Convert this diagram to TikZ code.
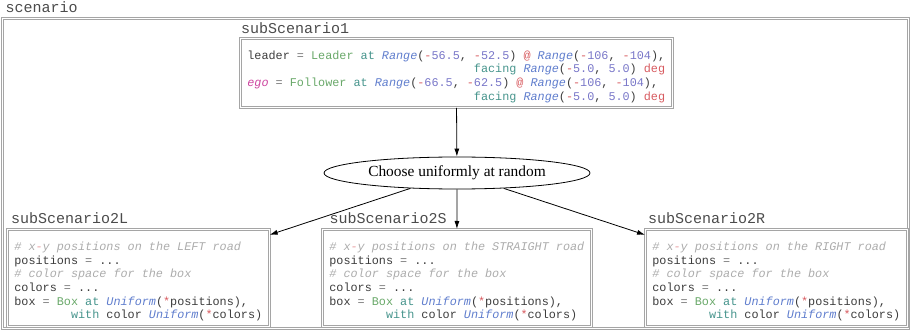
\documentclass[tikz,border=0pt]{standalone}
\usepackage{fontspec}
\setmainfont{Liberation Serif}
\setmonofont{Liberation Mono}
\usetikzlibrary{arrows.meta,shapes.geometric,positioning}

% colours of the code listing
\definecolor{codetext}{RGB}{60,60,60}
\definecolor{lbltext}{RGB}{75,75,75}
\definecolor{eqgray}{RGB}{120,120,120}
\definecolor{clsgreen}{RGB}{105,168,105}
\definecolor{kwteal}{RGB}{70,148,140}
\definecolor{fnblue}{RGB}{95,125,205}
\definecolor{numblue}{RGB}{120,118,200}
\definecolor{opred}{RGB}{215,90,95}
\definecolor{egopink}{RGB}{205,70,160}
\definecolor{cmtgray}{RGB}{172,172,172}
\definecolor{framegray}{RGB}{165,165,165}

\newcommand{\cls}[1]{\textcolor{clsgreen}{#1}}
\newcommand{\kwd}[1]{\textcolor{kwteal}{#1}}
\newcommand{\fn}[1]{\textcolor{fnblue}{\itshape #1}}
\newcommand{\nm}[1]{\textcolor{numblue}{#1}}
\newcommand{\op}[1]{\textcolor{opred}{#1}}
\newcommand{\mn}{\textcolor{opred}{-}}
\newcommand{\eq}{\textcolor{eqgray}{=}}
\newcommand{\cmt}[1]{\textcolor{cmtgray}{\itshape #1}}
\newcommand{\topgap}{\rule{0pt}{16pt}}

\tikzset{
  dbox/.style={draw=framegray, double=white, line width=0.8pt, double distance=1.3pt},
  codebox/.style={dbox, anchor=north west, align=left, text=codetext,
    font=\fontsize{11.8}{13.7}\selectfont\ttfamily, inner xsep=7pt, inner ysep=0pt},
  lbl/.style={anchor=base west, inner sep=0pt, text=lbltext,
    font=\fontsize{15}{18}\selectfont\ttfamily},
  arr/.style={-{Latex[length=8pt,width=5pt]}, line width=0.8pt},
}

\begin{document}
\begin{tikzpicture}[x=1pt,y=-1pt]
  \useasboundingbox (0,0) rectangle (911,331);

  % Draw the outer frame
  \draw[dbox] (2.5,18.5) rectangle (908.5,328.5);
  \node[lbl] (scenario) at (5.5,12.5) {scenario};

  % Draw the first sub-scenario
  \node[codebox, minimum height=69pt] (sub1) at (240,38) {%
    \topgap leader \eq{} \cls{Leader} \kwd{at} \fn{Range}(\mn\nm{56.5}, \mn\nm{52.5}) \op{@} \fn{Range}(\mn\nm{106}, \mn\nm{104}),\\
    \hspace*{19.2em}\kwd{facing} \fn{Range}(\mn\nm{5.0}, \nm{5.0}) \op{deg}\\
    \textcolor{egopink}{\itshape ego} \eq{} \cls{Follower} \kwd{at} \fn{Range}(\mn\nm{66.5}, \mn\nm{62.5}) \op{@} \fn{Range}(\mn\nm{106}, \mn\nm{104}),\\
    \hspace*{19.2em}\kwd{facing} \fn{Range}(\mn\nm{5.0}, \nm{5.0}) \op{deg}};
  \node[lbl] (sub1lbl) at (241,33.5) {subScenario1};

  % Draw the choice
  \node[draw, ellipse, line width=0.8pt, minimum width=266pt, minimum height=32pt, inner sep=0pt,
    font=\fontsize{15.4}{18}\selectfont] (choose) at (457,173) {Choose uniformly at random};

  % Draw the second sub-scenarios
  \node[codebox, minimum height=97pt] (sub2l) at (7,229) {%
    \topgap\cmt{\# x\textcolor{opred!60}{-}y positions on the LEFT road}\\
    positions \eq{} ...\\
    \cmt{\# color space for the box}\\
    colors \eq{} ...\\
    box \eq{} \cls{Box} \kwd{at} \fn{Uniform}(\op{*}positions),\\
    \hspace*{4.8em}\kwd{with} color \fn{Uniform}(\op{*}colors)};
  \node[codebox, minimum height=97pt] (sub2s) at (322,229) {%
    \topgap\cmt{\# x\textcolor{opred!60}{-}y positions on the STRAIGHT road}\\
    positions \eq{} ...\\
    \cmt{\# color space for the box}\\
    colors \eq{} ...\\
    box \eq{} \cls{Box} \kwd{at} \fn{Uniform}(\op{*}positions),\\
    \hspace*{4.8em}\kwd{with} color \fn{Uniform}(\op{*}colors)};
  \node[codebox, minimum height=97pt] (sub2r) at (645,229) {%
    \topgap\cmt{\# x\textcolor{opred!60}{-}y positions on the RIGHT road}\\
    positions \eq{} ...\\
    \cmt{\# color space for the box}\\
    colors \eq{} ...\\
    box \eq{} \cls{Box} \kwd{at} \fn{Uniform}(\op{*}positions),\\
    \hspace*{4.8em}\kwd{with} color \fn{Uniform}(\op{*}colors)};
  \node[lbl] (sub2llbl) at (11,224) {subScenario2L};
  \node[lbl] (sub2slbl) at (329.5,224) {subScenario2S};
  \node[lbl] (sub2rlbl) at (648,224) {subScenario2R};

  % Draw the arrows
  \draw[arr] (sub1) -- (choose);
  \draw[arr] (choose) -- (sub2l);
  \draw[arr] (choose) -- (sub2s);
  \draw[arr] (choose) -- (sub2r);
\end{tikzpicture}
\end{document}
